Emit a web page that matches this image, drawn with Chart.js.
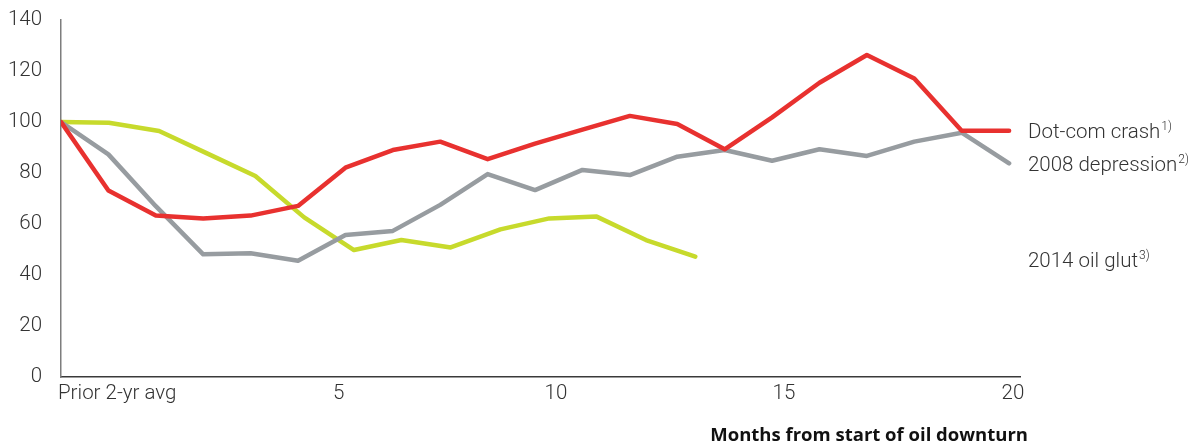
<!DOCTYPE html>
<html>
<head>
<meta charset="utf-8">
<script src="https://cdn.jsdelivr.net/npm/chart.js@4"></script>
<style>
  html, body { margin: 0; padding: 0; background: #fff; }
  #wrap { width: 1195px; height: 446px; position: relative; }
</style>
</head>
<body>
<div id="wrap"><canvas id="c"></canvas></div>
<script>
// ---- data ----
const months = [0, 1, 2, 3, 4, 5, 6, 7, 8, 9, 10, 11, 12, 13, 14, 15, 16, 17, 18, 19, 20];
const dotcom = [100, 73.1, 63.3, 62.2, 63.3, 67.1, 82.1, 89, 92.3, 85.4, 91.5, 97, 102.4, 99.2, 89.3, 101.8, 115.4, 126.3, 117.1, 96.6, 96.6];
const depression2008 = [100, 87.3, 67, 48.1, 48.5, 45.6, 55.7, 57.3, 67.5, 79.6, 73.3, 81.2, 79.2, 86.4, 89, 84.8, 89.3, 86.7, 92.3, 95.8, 83.8];
const glutMonths = [0, 1.01, 2.07, 3.08, 4.1, 5.13, 6.18, 7.18, 8.22, 9.27, 10.3, 11.3, 12.34, 13.38];
const glut2014 = [100, 99.7, 96.5, 87.7, 78.8, 62.6, 49.8, 53.7, 50.8, 57.9, 62.2, 62.9, 53.7, 47.2];

const seriesNames = ['Dot-com crash', '2008 depression', '2014 oil glut'];
const seriesNotes = ['1)', '2)', '3)'];
const xTickValues = [0, 5.86, 10.44, 15.25, 20.08];
const xTickLabels = ['Prior 2-yr avg', '5', '10', '15', '20'];
const yTickMax = 140;
const xTitle = 'Months from start of oil downturn';

const RED = '#E8312F', GRAY = '#979CA0', GREEN = '#C7DA2C';
const TEXT = '#333333';
const LIGHT = '300 20.5px Roboto, "Liberation Sans", sans-serif';

const toXY = (xs, ys) => ys.map((v, i) => ({ x: xs[i], y: v }));

const labelPlugin = {
  id: 'labels',
  afterDraw(chart) {
    const ctx = chart.ctx;
    const xs = chart.scales.x, ys = chart.scales.y;
    ctx.save();
    // x tick labels
    ctx.font = LIGHT;
    ctx.fillStyle = TEXT;
    ctx.textBaseline = 'middle';
    const yTick = ys.getPixelForValue(0) + 17;
    xTickValues.forEach((v, i) => {
      const px = xs.getPixelForValue(v);
      if (i === 0) { ctx.textAlign = 'left'; ctx.fillText(xTickLabels[i], px - 3, yTick); }
      else { ctx.textAlign = 'center'; ctx.fillText(xTickLabels[i], px, yTick); }
    });
    // axis title
    ctx.font = 'bold 18.5px "Open Sans", Lato, sans-serif';
    ctx.fillStyle = '#111';
    ctx.textAlign = 'right';
    ctx.fillText(xTitle, xs.right + 8, 436);
    // series labels at the right end
    const labelY = [133, 166, 262];
    ctx.textAlign = 'left';
    seriesNames.forEach((name, i) => {
      const x0 = xs.right + 8;
      const y0 = labelY[i];
      ctx.font = LIGHT;
      ctx.fillStyle = TEXT;
      ctx.fillText(name, x0, y0);
      const w = ctx.measureText(name).width;
      ctx.font = '300 12px Roboto, "Liberation Sans", sans-serif';
      ctx.fillText(seriesNotes[i], x0 + w + 1, y0 - 6);
    });
    ctx.restore();
  }
};

new Chart(document.getElementById('c'), {
  type: 'line',
  data: {
    datasets: [
      { label: seriesNames[0], data: toXY(months, dotcom), borderColor: RED, borderWidth: 4.5 },
      { label: seriesNames[1], data: toXY(months, depression2008), borderColor: GRAY, borderWidth: 4.5 },
      { label: seriesNames[2], data: toXY(glutMonths, glut2014), borderColor: GREEN, borderWidth: 4.5 }
    ]
  },
  options: {
    responsive: true,
    maintainAspectRatio: false,
    animation: false,
    layout: { padding: { top: 20, right: 175, left: 0, bottom: 0 } },
    elements: {
      point: { radius: 0, hoverRadius: 0 },
      line: { tension: 0, borderJoinStyle: 'round', borderCapStyle: 'round', fill: false }
    },
    plugins: { legend: { display: false }, tooltip: { enabled: false } },
    scales: {
      x: {
        type: 'linear', min: 0, max: 20.23,
        grid: { display: false, drawTicks: false },
        border: { display: true, color: '#3a3a3a', width: 1.5 },
        ticks: { display: false },
        afterFit(s) { s.height = 69; s.paddingLeft = 0; s.paddingRight = 0; }
      },
      y: {
        min: 0, max: yTickMax,
        grid: { display: false, drawTicks: false },
        border: { display: true, color: '#7d7d7d', width: 1.5 },
        ticks: { stepSize: 20, padding: 19, color: TEXT, font: { family: 'Roboto', weight: '300', size: 20.5 } },
        afterFit(s) { s.width = 61; s.paddingTop = 0; s.paddingBottom = 0; }
      }
    }
  },
  plugins: [labelPlugin]
});
</script>
</body>
</html>
